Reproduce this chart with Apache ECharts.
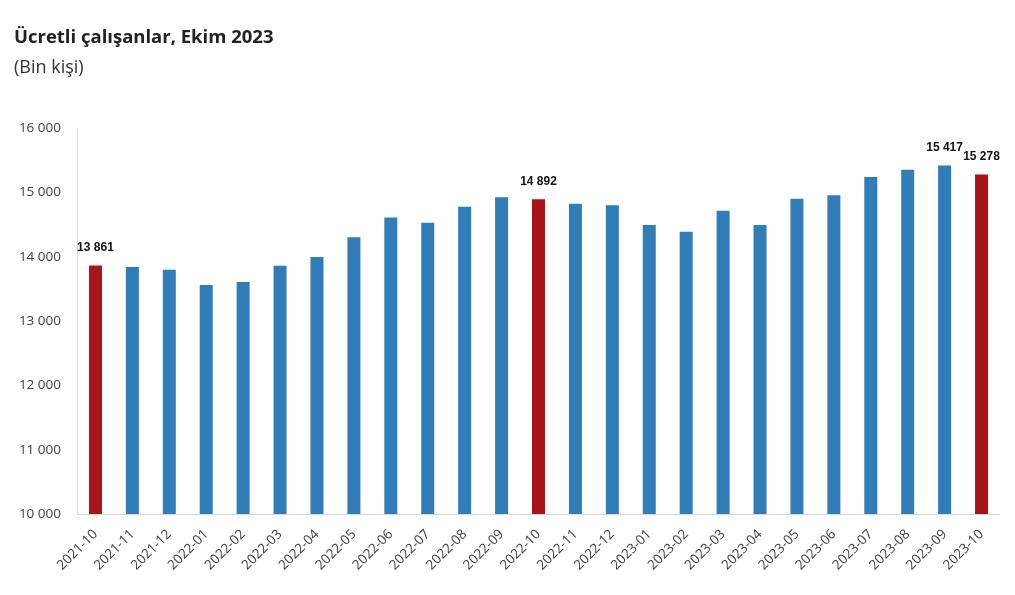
<!DOCTYPE html>
<html>
<head>
<meta charset="utf-8">
<script src="https://cdn.jsdelivr.net/npm/echarts@6/dist/echarts.min.js"></script>
<style>html,body{margin:0;padding:0;background:#fff;}#c{width:1015px;height:595px;}</style>
</head>
<body>
<div id="c"></div>
<script>
const categories = ["2021-10","2021-11","2021-12","2022-01","2022-02","2022-03","2022-04","2022-05","2022-06","2022-07","2022-08","2022-09","2022-10","2022-11","2022-12","2023-01","2023-02","2023-03","2023-04","2023-05","2023-06","2023-07","2023-08","2023-09","2023-10"];
const values = [13861,13840,13795,13560,13606,13860,13995,14301,14607,14529,14777,14923,14892,14824,14798,14492,14389,14715,14492,14902,14953,15239,15352,15417,15278];
const highlighted = ["2021-10","2022-10","2023-10"];
const labelled = ["2021-10","2022-10","2023-09","2023-10"];
const yTicks = {min:10000, max:16000, interval:1000};

const fmt = v => String(v).replace(/\B(?=(\d{3})+(?!\d))/g, ' ');
const chart = echarts.init(document.getElementById('c'));
chart.setOption({
  animation:false,
  title:[
    {text:'Ücretli çalışanlar, Ekim 2023', left:14, top:28, padding:0, textStyle:{fontFamily:'Open Sans', fontWeight:'bold', fontSize:18.5, color:'#222'}},
    {text:'(Bin kişi)', left:14, top:59, padding:0, textStyle:{fontFamily:'Open Sans', fontWeight:'normal', fontSize:18, color:'#333'}}
  ],
  grid:{left:77, right:15, top:128, bottom:81},
  xAxis:{type:'category', data:categories,
    axisLine:{lineStyle:{color:'#d9d9d9'}}, axisTick:{show:false},
    axisLabel:{rotate:45, interval:0, fontFamily:'Open Sans', fontSize:13.5, color:'#404040', margin:18}},
  yAxis:{type:'value', min:yTicks.min, max:yTicks.max, interval:yTicks.interval,
    axisLine:{show:true, lineStyle:{color:'#d9d9d9'}}, axisTick:{show:false}, splitLine:{show:false},
    axisLabel:{formatter:fmt, fontFamily:'Open Sans', fontSize:13.5, color:'#404040', margin:16}},
  series:[{type:'bar', barWidth:13,
    data: values.map((v,i)=>({value:v,
      itemStyle:{color: highlighted.includes(categories[i]) ? '#a8141c' : '#317db8'},
      label:{show: labelled.includes(categories[i])}})),
    label:{position:'top', distance:12, formatter:p=>fmt(p.value), fontFamily:'Liberation Sans', fontWeight:'bold', fontSize:12, color:'#111'}
  }]
});
</script>
</body>
</html>
